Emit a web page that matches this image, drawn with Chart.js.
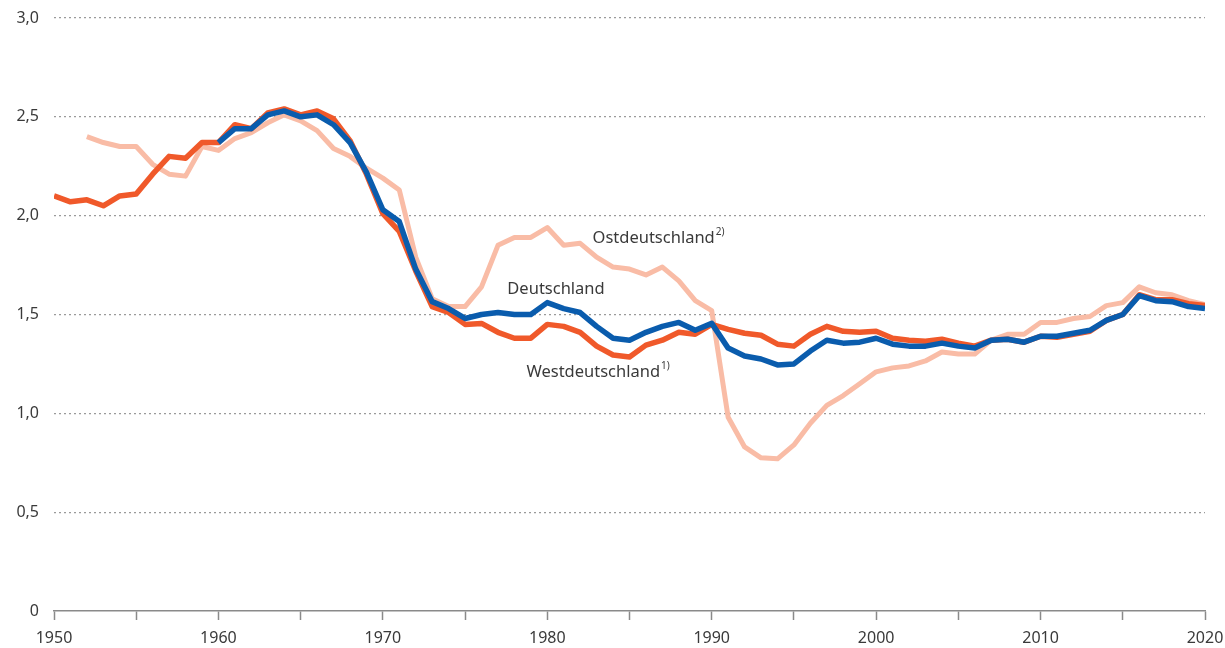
<!DOCTYPE html>
<html lang="de">
<head>
    <meta charset="UTF-8">
    <title>Zusammengefasste Geburtenziffer</title>
    <script src="https://cdn.jsdelivr.net/npm/chart.js"></script>
    <style>
        body { margin: 0; background: #fff; }
        canvas { display: block; }
    </style>
</head>
<body>
    <canvas id="chart" width="1225" height="648"></canvas>

    <script>
        // Jahre 1950 bis 2020
        const jahre = Array.from({ length: 71 }, (_, i) => 1950 + i);

        // Westdeutschland 1950-2020
        const westdeutschland = [
            2.10, 2.07, 2.08, 2.05, 2.10, 2.11, 2.21, 2.30, 2.29, 2.37,
            2.37, 2.46, 2.44, 2.52, 2.54, 2.51, 2.53, 2.49, 2.38, 2.21,
            2.01, 1.92, 1.72, 1.54, 1.51, 1.45, 1.455, 1.41, 1.38, 1.38,
            1.45, 1.44, 1.41, 1.34, 1.295, 1.285, 1.345, 1.37, 1.41, 1.40,
            1.45, 1.425, 1.405, 1.395, 1.35, 1.34, 1.40, 1.44, 1.415, 1.41,
            1.415, 1.38, 1.37, 1.365, 1.375, 1.355, 1.34, 1.37, 1.375, 1.36,
            1.39, 1.385, 1.40, 1.415, 1.47, 1.50, 1.60, 1.575, 1.575, 1.555,
            1.545
        ];

        // Deutschland ab 1960
        const deutschland = [
            null, null, null, null, null, null, null, null, null, null,
            2.37, 2.44, 2.44, 2.51, 2.53, 2.50, 2.51, 2.46, 2.37, 2.22,
            2.03, 1.97, 1.73, 1.565, 1.53, 1.48, 1.50, 1.51, 1.50, 1.50,
            1.56, 1.53, 1.51, 1.44, 1.38, 1.37, 1.41, 1.44, 1.46, 1.42,
            1.455, 1.33, 1.29, 1.275, 1.245, 1.25, 1.315, 1.37, 1.355, 1.36,
            1.38, 1.35, 1.34, 1.34, 1.355, 1.34, 1.33, 1.37, 1.375, 1.36,
            1.39, 1.39, 1.405, 1.42, 1.47, 1.50, 1.595, 1.57, 1.565, 1.54,
            1.53
        ];

        // Ostdeutschland ab 1952
        const ostdeutschland = [
            null, null, 2.40, 2.37, 2.35, 2.35, 2.26, 2.21, 2.20, 2.35,
            2.33, 2.39, 2.42, 2.47, 2.51, 2.48, 2.43, 2.34, 2.30, 2.24,
            2.19, 2.13, 1.79, 1.58, 1.54, 1.54, 1.64, 1.85, 1.89, 1.89,
            1.94, 1.85, 1.86, 1.79, 1.74, 1.73, 1.70, 1.74, 1.67, 1.57,
            1.52, 0.98, 0.83, 0.775, 0.77, 0.84, 0.95, 1.04, 1.09, 1.15,
            1.21, 1.23, 1.24, 1.265, 1.31, 1.30, 1.30, 1.37, 1.40, 1.40,
            1.46, 1.46, 1.48, 1.49, 1.545, 1.56, 1.64, 1.61, 1.60, 1.57,
            1.55
        ];

        // Beschriftungen an den Linien (Anker in Datenkoordinaten)
        const beschriftungen = [
            { text: 'Ostdeutschland', hoch: '2)', jahr: 1982.75, wert: 1.887 },
            { text: 'Deutschland', hoch: '', jahr: 1977.57, wert: 1.629 },
            { text: 'Westdeutschland', hoch: '1)', jahr: 1978.73, wert: 1.209 }
        ];

        const schrift = '"Noto Sans", "Open Sans", sans-serif';
        const textFarbe = '#3a3a3a';

        function punkte(werte) {
            return jahre.map((j, i) => ({ x: j, y: werte[i] }));
        }

        // Plugin fuer die Linienbeschriftungen
        const labelPlugin = {
            id: 'linienLabels',
            afterDatasetsDraw(chart) {
                const ctx = chart.ctx;
                const xs = chart.scales.x;
                const ys = chart.scales.y;
                ctx.save();
                ctx.fillStyle = textFarbe;
                ctx.textBaseline = 'middle';
                ctx.textAlign = 'left';
                beschriftungen.forEach(b => {
                    const px = xs.getPixelForValue(b.jahr);
                    const py = ys.getPixelForValue(b.wert);
                    ctx.font = '16.5px ' + schrift;
                    ctx.fillText(b.text, px, py);
                    if (b.hoch) {
                        const w = ctx.measureText(b.text).width;
                        ctx.font = '10px ' + schrift;
                        ctx.fillText(b.hoch, px + w + 1, py - 6);
                    }
                });
                ctx.restore();
            }
        };

        new Chart(document.getElementById('chart'), {
            type: 'line',
            data: {
                datasets: [
                    {
                        label: 'Deutschland',
                        data: punkte(deutschland),
                        borderColor: '#0a5cad',
                        borderWidth: 5.5,
                        order: 1
                    },
                    {
                        label: 'Westdeutschland',
                        data: punkte(westdeutschland),
                        borderColor: '#f0592a',
                        borderWidth: 5.5,
                        order: 2
                    },
                    {
                        label: 'Ostdeutschland',
                        data: punkte(ostdeutschland),
                        borderColor: '#f9bca6',
                        borderWidth: 5,
                        order: 3
                    }
                ]
            },
            options: {
                responsive: false,
                animation: false,
                spanGaps: false,
                elements: {
                    point: { radius: 0 },
                    line: { tension: 0, borderJoinStyle: 'round', fill: false }
                },
                layout: {
                    autoPadding: false,
                    padding: { top: 18, right: 20, bottom: 0, left: 0 }
                },
                plugins: {
                    legend: { display: false },
                    tooltip: { enabled: false }
                },
                scales: {
                    x: {
                        type: 'linear',
                        min: 1950,
                        max: 2020,
                        // feste Hoehe, keine zusaetzlichen Raender fuer die Labels
                        afterFit: s => { s.height = 37; s.paddingLeft = 0; s.paddingRight = 0; },
                        grid: {
                            drawOnChartArea: false,
                            drawTicks: true,
                            tickLength: 9,
                            tickColor: '#8a8a8a',
                            tickWidth: 1.5
                        },
                        border: { display: true, color: '#8a8a8a', width: 1.5 },
                        ticks: {
                            stepSize: 5,
                            autoSkip: false,
                            maxRotation: 0,
                            padding: 9,
                            color: textFarbe,
                            font: { family: schrift, size: 16 },
                            callback: v => (v % 10 === 0 ? String(v) : '')
                        }
                    },
                    y: {
                        min: 0,
                        max: 3,
                        afterFit: s => { s.width = 54; s.paddingTop = 0; s.paddingBottom = 0; },
                        grid: {
                            drawTicks: false,
                            color: ctx => (ctx.tick && ctx.tick.value === 0 ? 'rgba(0,0,0,0)' : '#9a9a9a'),
                            lineWidth: 1.2
                        },
                        border: { display: false, dash: [2, 3] },
                        ticks: {
                            stepSize: 0.5,
                            padding: 15,
                            color: textFarbe,
                            font: { family: schrift, size: 16 },
                            callback: v => (v === 0 ? '0' : v.toFixed(1).replace('.', ','))
                        }
                    }
                }
            },
            plugins: [labelPlugin]
        });
    </script>
</body>
</html>
